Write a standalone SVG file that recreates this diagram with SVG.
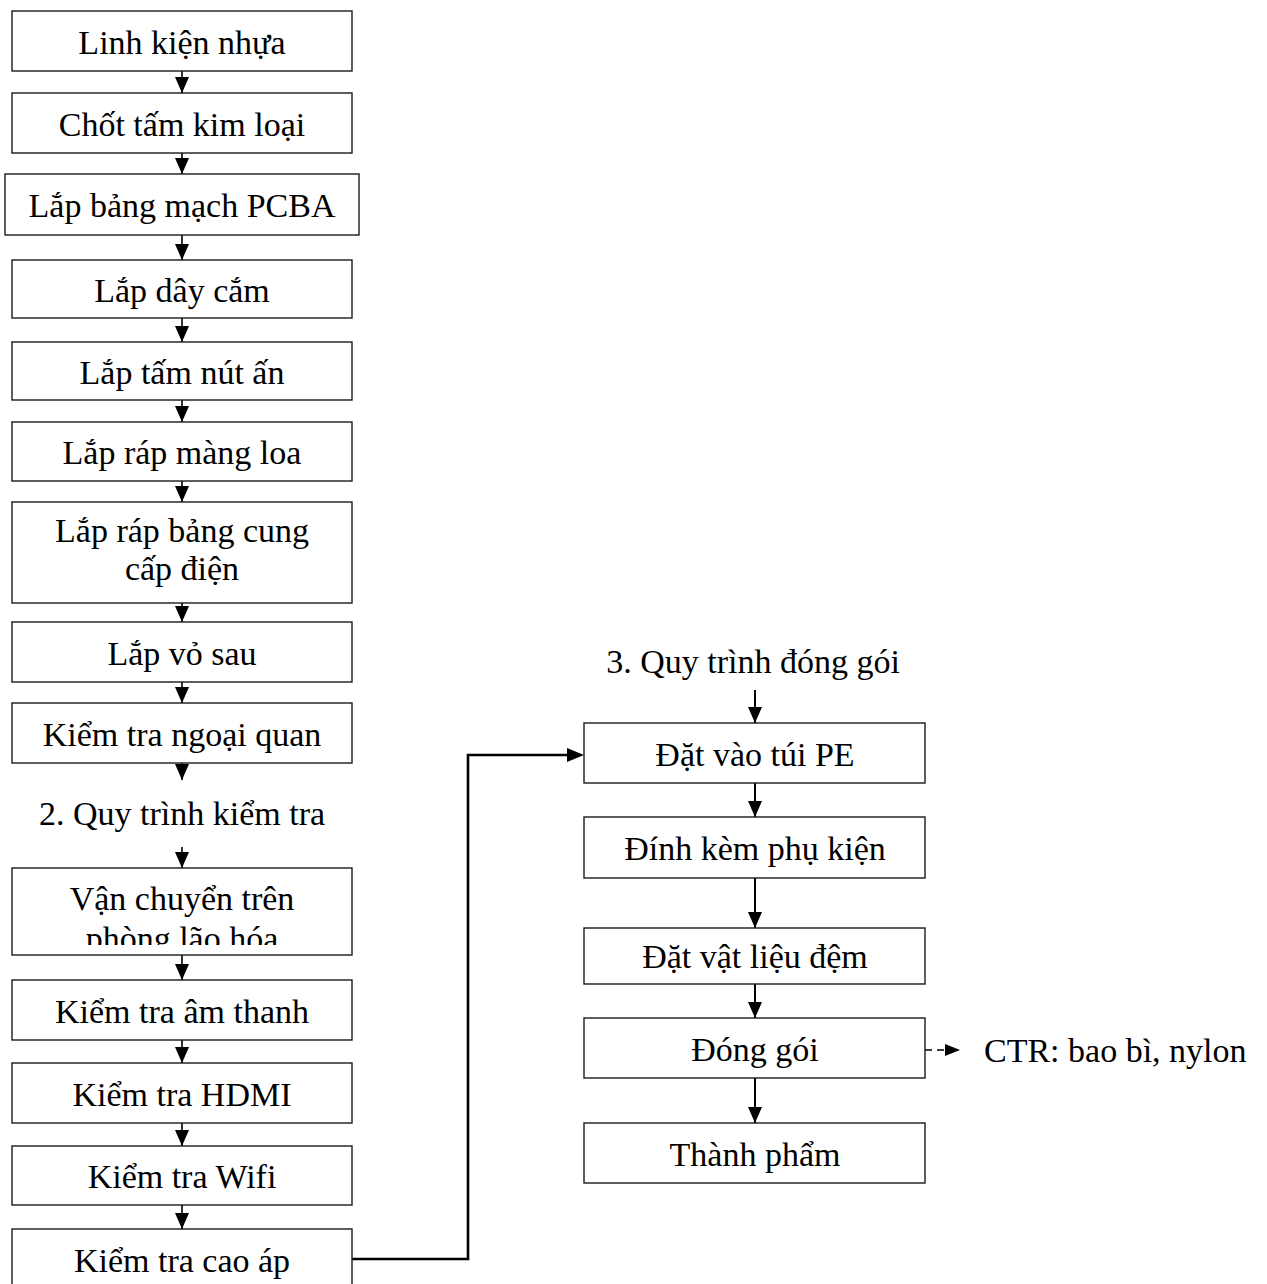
<svg xmlns="http://www.w3.org/2000/svg" width="1267" height="1284" viewBox="0 0 1267 1284">
  <style>
    .box { fill: #ffffff; stroke: #1a1a1a; stroke-width: 1.4; }
    .lbl { font-family: "Liberation Serif", "Times New Roman", serif; font-size: 34px; fill: #000000; text-anchor: middle; }
    .free { font-family: "Liberation Serif", "Times New Roman", serif; font-size: 34px; fill: #000000; }
    .ln { fill: none; stroke: #000000; stroke-width: 1.6; }
    .ln2 { fill: none; stroke: #000000; stroke-width: 2; }
    .elbow { fill: none; stroke: #000000; stroke-width: 2.6; }
    .dash { fill: none; stroke: #000000; stroke-width: 1.6; stroke-dasharray: 7 5; }
  </style>
  <defs>
    <marker id="head" markerUnits="userSpaceOnUse" markerWidth="16" markerHeight="14" refX="16" refY="7" orient="auto">
      <path d="M0,0 L16,7 L0,14 Z" fill="#000000"/>
    </marker>
    <clipPath id="clipVC">
      <rect x="12" y="868" width="340" height="77"/>
    </clipPath>
  </defs>
  <rect width="1267" height="1284" fill="#ffffff"/>

  <!-- connectors -->
  <g id="connectors">
    <line class="ln" x1="182" y1="71" x2="182" y2="93" marker-end="url(#head)"/>
    <line class="ln" x1="182" y1="153" x2="182" y2="174" marker-end="url(#head)"/>
    <line class="ln" x1="182" y1="235" x2="182" y2="260" marker-end="url(#head)"/>
    <line class="ln" x1="182" y1="318" x2="182" y2="342" marker-end="url(#head)"/>
    <line class="ln" x1="182" y1="400" x2="182" y2="422" marker-end="url(#head)"/>
    <line class="ln" x1="182" y1="481" x2="182" y2="502" marker-end="url(#head)"/>
    <line class="ln" x1="182" y1="603" x2="182" y2="622" marker-end="url(#head)"/>
    <line class="ln" x1="182" y1="682" x2="182" y2="703" marker-end="url(#head)"/>
    <line class="ln" x1="182" y1="763" x2="182" y2="780" marker-end="url(#head)"/>
    <line class="ln" x1="182" y1="847" x2="182" y2="868" marker-end="url(#head)"/>
    <line class="ln" x1="182" y1="955" x2="182" y2="980" marker-end="url(#head)"/>
    <line class="ln" x1="182" y1="1040" x2="182" y2="1063" marker-end="url(#head)"/>
    <line class="ln" x1="182" y1="1123" x2="182" y2="1146" marker-end="url(#head)"/>
    <line class="ln" x1="182" y1="1205" x2="182" y2="1229" marker-end="url(#head)"/>

    <!-- hand-off from testing to packing -->
    <polyline class="elbow" points="352,1259 468,1259 468,755 568,755"/>
    <path d="M567,748 L584,755 L567,762 Z" fill="#000000"/>

    <line class="ln2" x1="755" y1="690" x2="755" y2="723" marker-end="url(#head)"/>
    <line class="ln2" x1="755" y1="783" x2="755" y2="817" marker-end="url(#head)"/>
    <line class="ln2" x1="755" y1="878" x2="755" y2="928" marker-end="url(#head)"/>
    <line class="ln2" x1="755" y1="984" x2="755" y2="1018" marker-end="url(#head)"/>
    <line class="ln2" x1="755" y1="1078" x2="755" y2="1123" marker-end="url(#head)"/>

    <!-- waste output -->
    <line class="dash" x1="925" y1="1050" x2="946" y2="1050"/>
    <path d="M945,1044 L960,1050 L945,1056 Z" fill="#000000"/>
  </g>

  <!-- 1. assembly -->
  <g id="n-linh-kien">
    <rect class="box" x="12" y="11" width="340" height="60"/>
    <text class="lbl" x="182" y="54">Linh kiện nhựa</text>
  </g>
  <g id="n-chot-tam">
    <rect class="box" x="12" y="93" width="340" height="60"/>
    <text class="lbl" x="182" y="136">Chốt tấm kim loại</text>
  </g>
  <g id="n-pcba">
    <rect class="box" x="5" y="174" width="354" height="61"/>
    <text class="lbl" x="182" y="217">Lắp bảng mạch PCBA</text>
  </g>
  <g id="n-day-cam">
    <rect class="box" x="12" y="260" width="340" height="58"/>
    <text class="lbl" x="182" y="302">Lắp dây cắm</text>
  </g>
  <g id="n-nut-an">
    <rect class="box" x="12" y="342" width="340" height="58"/>
    <text class="lbl" x="182" y="384">Lắp tấm nút ấn</text>
  </g>
  <g id="n-mang-loa">
    <rect class="box" x="12" y="422" width="340" height="59"/>
    <text class="lbl" x="182" y="464">Lắp ráp màng loa</text>
  </g>
  <g id="n-cung-cap-dien">
    <rect class="box" x="12" y="502" width="340" height="101"/>
    <text class="lbl" x="182" y="542">Lắp ráp bảng cung</text>
    <text class="lbl" x="182" y="580">cấp điện</text>
  </g>
  <g id="n-vo-sau">
    <rect class="box" x="12" y="622" width="340" height="60"/>
    <text class="lbl" x="182" y="665">Lắp vỏ sau</text>
  </g>
  <g id="n-ngoai-quan">
    <rect class="box" x="12" y="703" width="340" height="60"/>
    <text class="lbl" x="182" y="746">Kiểm tra ngoại quan</text>
  </g>

  <!-- 2. testing -->
  <g id="t-kiem-tra">
    <text class="lbl" x="182" y="825">2. Quy trình kiểm tra</text>
  </g>
  <g id="n-van-chuyen">
    <rect class="box" x="12" y="868" width="340" height="87"/>
    <g clip-path="url(#clipVC)">
      <text class="lbl" x="182" y="910">Vận chuyển trên</text>
      <text class="lbl" x="182" y="950">phòng lão hóa</text>
    </g>
  </g>
  <g id="n-am-thanh">
    <rect class="box" x="12" y="980" width="340" height="60"/>
    <text class="lbl" x="182" y="1023">Kiểm tra âm thanh</text>
  </g>
  <g id="n-hdmi">
    <rect class="box" x="12" y="1063" width="340" height="60"/>
    <text class="lbl" x="182" y="1106">Kiểm tra HDMI</text>
  </g>
  <g id="n-wifi">
    <rect class="box" x="12" y="1146" width="340" height="59"/>
    <text class="lbl" x="182" y="1188">Kiểm tra Wifi</text>
  </g>
  <g id="n-cao-ap">
    <rect class="box" x="12" y="1229" width="340" height="62"/>
    <text class="lbl" x="182" y="1272">Kiểm tra cao áp</text>
  </g>

  <!-- 3. packing -->
  <g id="t-dong-goi">
    <text class="lbl" x="753" y="673">3. Quy trình đóng gói</text>
  </g>
  <g id="n-tui-pe">
    <rect class="box" x="584" y="723" width="341" height="60"/>
    <text class="lbl" x="755" y="766">Đặt vào túi PE</text>
  </g>
  <g id="n-phu-kien">
    <rect class="box" x="584" y="817" width="341" height="61"/>
    <text class="lbl" x="755" y="860">Đính kèm phụ kiện</text>
  </g>
  <g id="n-vat-lieu-dem">
    <rect class="box" x="584" y="928" width="341" height="56"/>
    <text class="lbl" x="755" y="968">Đặt vật liệu đệm</text>
  </g>
  <g id="n-dong-goi">
    <rect class="box" x="584" y="1018" width="341" height="60"/>
    <text class="lbl" x="755" y="1061">Đóng gói</text>
  </g>
  <g id="n-thanh-pham">
    <rect class="box" x="584" y="1123" width="341" height="60"/>
    <text class="lbl" x="755" y="1166">Thành phẩm</text>
  </g>
  <g id="t-ctr">
    <text class="free" x="984" y="1062">CTR: bao bì, nylon</text>
  </g>
</svg>
